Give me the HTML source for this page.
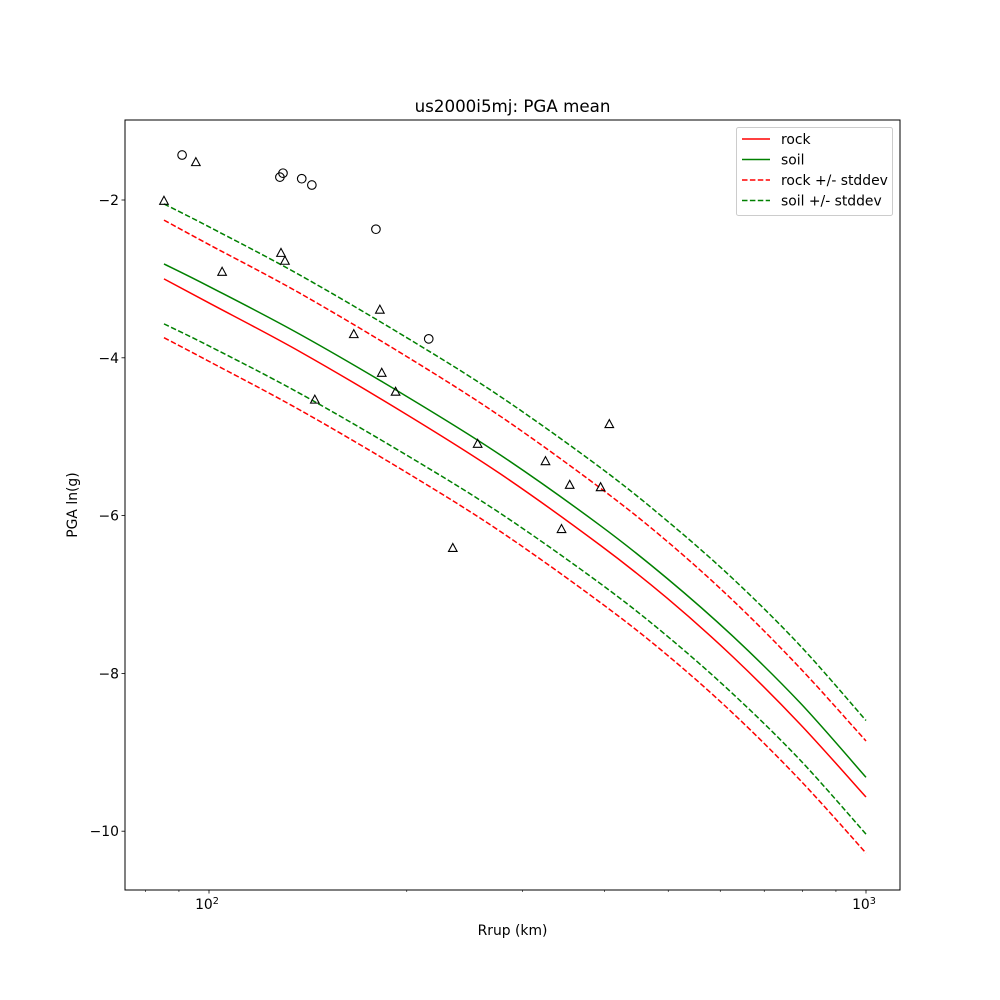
<!DOCTYPE html>
<html>
<head>
<meta charset="utf-8">
<style>
html,body{margin:0;padding:0;background:#fff;}
svg{display:block;font-family:"DejaVu Sans","Liberation Sans",sans-serif;}
</style>
</head>
<body>
<svg id="chart" width="1000" height="1000" viewBox="0 0 1000 1000" xmlns="http://www.w3.org/2000/svg">
<rect x="0" y="0" width="1000" height="1000" fill="#fff"/>
<text x="512.5" y="112" font-size="16.7" text-anchor="middle">us2000i5mj: PGA mean</text>
<text x="512.5" y="935" font-size="13.9" text-anchor="middle">Rrup (km)</text>
<text x="77" y="505" font-size="13.9" text-anchor="middle" transform="rotate(-90 77 505)">PGA ln(g)</text>
<g id="marks"></g>
<g id="axes"></g>
</svg>
<script>
// ---- data ----
const distances = [85.4, 100, 137.6, 200, 277.5, 393.6, 497.7, 627.6, 793.4, 1000];
const rockMean = [-3.00, -3.305, -3.923, -4.72, -5.47, -6.373, -7.044, -7.792, -8.641, -9.567];
const soilMean = [-2.81, -3.095, -3.703, -4.49, -5.23, -6.123, -6.794, -7.532, -8.371, -9.317];
const rockSd = [0.745, 0.74, 0.74, 0.735, 0.73, 0.725, 0.72, 0.715, 0.71, 0.71];
const soilSd = [0.76, 0.755, 0.75, 0.745, 0.74, 0.735, 0.73, 0.73, 0.725, 0.72];
const circleDist = [91.0, 128.2, 129.6, 138.4, 143.4, 179.5, 216];
const circleVal = [-1.43, -1.71, -1.66, -1.73, -1.81, -2.37, -3.76];
const triDist = [85.4, 95.5, 104.7, 128.7, 130.5, 144.9, 166.1, 182, 183.2, 192.3, 235, 256.4, 325.2, 344, 354, 394.5, 406.7];
const triVal = [-2.01, -1.52, -2.91, -2.67, -2.77, -4.53, -3.70, -3.39, -4.19, -4.43, -6.41, -5.09, -5.31, -6.17, -5.61, -5.64, -4.84];
const yTicks = [-2, -4, -6, -8, -10];
const yTickLabels = ["\u22122", "\u22124", "\u22126", "\u22128", "\u221210"];
const xMajor = [100, 1000];
const xMajorLabels = ["2", "3"];
const xMinor = [80, 90, 200, 300, 400, 500, 600, 700, 800, 900];

// ---- scales ----
const L = 125, R = 900, T = 120, B = 890;
function xs(d) { return 209 + (Math.log10(d) - 2) * 657; }
function ys(v) { return 200 + (-2 - v) * 78.9; }

const NS = "http://www.w3.org/2000/svg";
const marks = document.getElementById('marks');
const axes = document.getElementById('axes');
function mk(tag, attrs, parent) {
  const e = document.createElementNS(NS, tag);
  for (const k in attrs) e.setAttribute(k, attrs[k]);
  parent.appendChild(e);
  return e;
}

// smooth (Catmull-Rom) path through the data points
function linePath(vals) {
  const p = vals.map((v, i) => [xs(distances[i]), ys(v)]);
  let d = 'M' + p[0][0].toFixed(2) + ' ' + p[0][1].toFixed(2);
  for (let i = 0; i < p.length - 1; i++) {
    const p0 = p[i - 1] || p[i], p1 = p[i], p2 = p[i + 1], p3 = p[i + 2] || p[i + 1];
    const c1 = [p1[0] + (p2[0] - p0[0]) / 6, p1[1] + (p2[1] - p0[1]) / 6];
    const c2 = [p2[0] - (p3[0] - p1[0]) / 6, p2[1] - (p3[1] - p1[1]) / 6];
    d += ' C' + c1[0].toFixed(2) + ' ' + c1[1].toFixed(2) + ' ' + c2[0].toFixed(2) + ' ' + c2[1].toFixed(2) + ' ' + p2[0].toFixed(2) + ' ' + p2[1].toFixed(2);
  }
  return d;
}
const series = [
  {name: 'rock-upper-stddev', vals: rockMean.map((v, i) => v + rockSd[i]), color: 'red', dash: '5.5,2.4'},
  {name: 'rock-lower-stddev', vals: rockMean.map((v, i) => v - rockSd[i]), color: 'red', dash: '5.5,2.4'},
  {name: 'soil-upper-stddev', vals: soilMean.map((v, i) => v + soilSd[i]), color: 'green', dash: '5.5,2.4'},
  {name: 'soil-lower-stddev', vals: soilMean.map((v, i) => v - soilSd[i]), color: 'green', dash: '5.5,2.4'},
  {name: 'rock-mean-line', vals: rockMean, color: 'red', dash: null},
  {name: 'soil-mean-line', vals: soilMean, color: 'green', dash: null}
];
series.forEach(s => {
  const p = mk('path', {d: linePath(s.vals), fill: 'none', stroke: s.color, 'stroke-width': 1.5}, marks);
  if (s.dash) p.setAttribute('stroke-dasharray', s.dash);
  
  
});

circleDist.forEach((d, i) => {
  const c = mk('circle', {cx: xs(d), cy: ys(circleVal[i]), r: 4.3, fill: 'none', stroke: '#000', 'stroke-width': 1.1}, marks);
  
  
});
triDist.forEach((d, i) => {
  const x = xs(d), y = ys(triVal[i]);
  const t = mk('polygon', {points: `${x},${y-4.5} ${x-4.3},${y+3.5} ${x+4.3},${y+3.5}`, fill: 'none', stroke: '#000', 'stroke-width': 1.1}, marks);
  
  
});

// ---- axes ----
const frame = mk('rect', {x: L, y: T, width: R - L, height: B - T, fill: 'none', stroke: '#000', 'stroke-width': 1}, axes);



yTicks.forEach((v, i) => {
  const y = ys(v);
  const tk = mk('line', {x1: L - 3.5, x2: L, y1: y, y2: y, stroke: '#000', 'stroke-width': 0.8}, axes);
  
  
  const tx = mk('text', {x: L - 6, y: y + 5, 'font-size': 13.9, 'text-anchor': 'end'}, axes);
  tx.textContent = yTickLabels[i];
  
  
});
xMajor.forEach((d, i) => {
  const x = xs(d);
  const tk = mk('line', {x1: x, x2: x, y1: B, y2: B + 3.5, stroke: '#000', 'stroke-width': 0.8}, axes);
  
  
  const tx = mk('text', {x: x - 2, y: B + 19, 'font-size': 13.9, 'text-anchor': 'middle'}, axes);
  tx.textContent = '10';
  const sup = mk('tspan', {'font-size': 9.7, dy: -5}, tx);
  sup.textContent = xMajorLabels[i];
  
  
});
xMinor.forEach(d => {
  const x = xs(d);
  if (x < L || x > R) return;
  const tk = mk('line', {x1: x, x2: x, y1: B, y2: B + 2, stroke: '#000', 'stroke-width': 0.6}, axes);
  
  
});

// ---- legend ----
const lg = mk('g', {}, axes);


mk('rect', {x: 736.5, y: 127.5, width: 156, height: 88, rx: 2, fill: '#fff', 'fill-opacity': 0.8, stroke: '#ccc', 'stroke-width': 1}, lg);
const legendLabels = ['rock', 'soil', 'rock +/- stddev', 'soil +/- stddev'];
const legendColors = ['red', 'green', 'red', 'green'];
const legendDash = [false, false, true, true];
legendLabels.forEach((lab, i) => {
  const y = 139 + i * 20.5;
  const ln = mk('line', {x1: 742, x2: 770, y1: y, y2: y, stroke: legendColors[i], 'stroke-width': 1.5}, lg);
  if (legendDash[i]) ln.setAttribute('stroke-dasharray', '5.5,2.4');
  
  
  const tx = mk('text', {x: 781, y: y + 5, 'font-size': 13.9}, lg);
  tx.textContent = lab;
  
  
});
</script>
</body>
</html>
